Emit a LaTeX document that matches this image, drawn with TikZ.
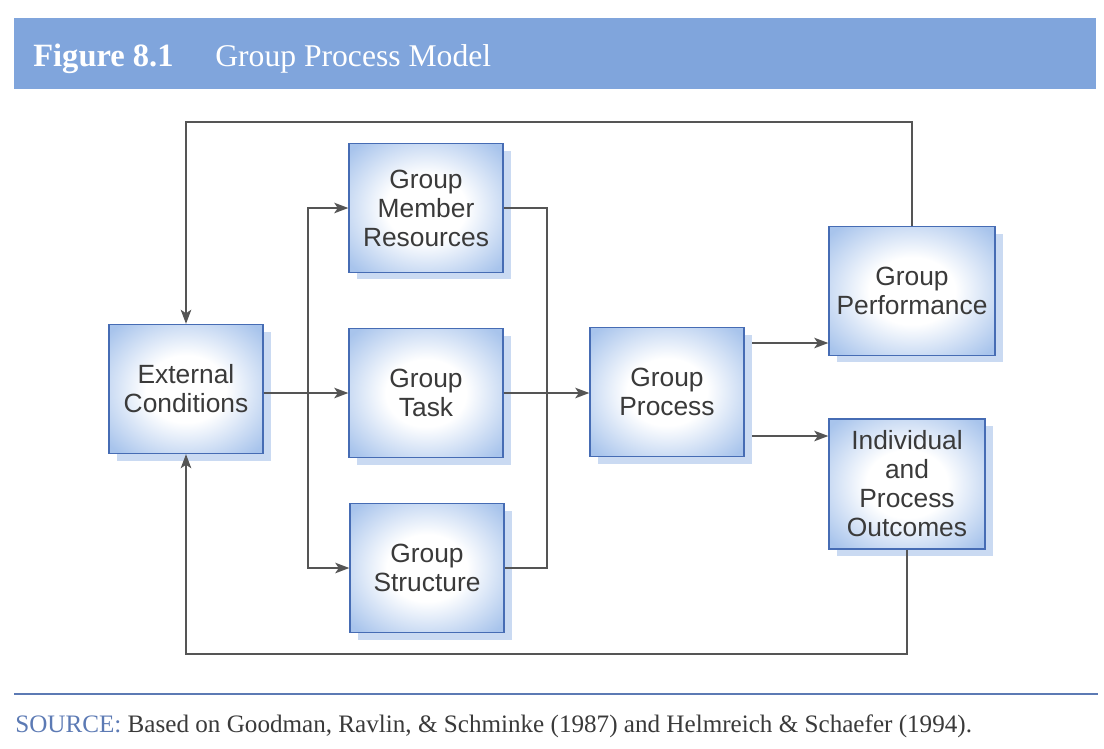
\documentclass[tikz,border=0pt]{standalone}
\usepackage{fontspec}
\setmainfont{Liberation Serif}
\setsansfont{Liberation Sans}
\usetikzlibrary{positioning, arrows.meta, shadows}
\definecolor{barblue}{RGB}{128,165,220}
\definecolor{ruleblue}{RGB}{92,122,180}
\definecolor{edgeblue}{RGB}{70,108,180}
\definecolor{glowblue}{RGB}{168,196,236}
\definecolor{shadeblue}{RGB}{202,218,242}
\definecolor{inkgray}{RGB}{58,58,58}
\definecolor{linegray}{RGB}{85,85,85}
\pgfdeclareradialshading{boxglow}{\pgfpoint{0bp}{0bp}}{color(0bp)=(white); color(13bp)=(white); color(33bp)=(glowblue); color(50bp)=(glowblue)}
\tikzset{
>={Stealth[length=8pt, width=6pt, inset=2pt]}, % filled arrow heads
block/.style={draw=edgeblue, line width=0.8pt, shade, shading=boxglow,
  drop shadow={shadow xshift=0.16cm, shadow yshift=-0.14cm, fill=shadeblue, opacity=1},
  minimum width=3.08cm, minimum height=2.58cm, align=center, text=inkgray,
  font=\sffamily\fontsize{15}{16.5}\selectfont}, % the blue boxes
link/.style={draw=linegray, line width=0.9pt}, % the grey connectors
}

\begin{document}
\begin{tikzpicture}[x=0.02cm, y=-0.02cm]
        \useasboundingbox (0,0) rectangle (1104,748);

        % Heading
        \fill[barblue] (14,18) rectangle (1096,89);
        \node[anchor=base west, inner sep=0pt, text=white, font=\fontsize{18.5}{20}\selectfont\bfseries] (figno) at (33,66) {Figure 8.1};
        \node[anchor=base west, inner sep=0pt, text=white, font=\fontsize{18}{20}\selectfont] (figname) at (215,66) {Group Process Model};

        % Inputs
        \node[block] (Ext) at (186,389) {External\\Conditions};
        \node[block] (Member) at (426,208) {Group\\Member\\Resources};
        \node[block] (Task) at (426,393) {Group\\Task};
        \node[block] (Structure) at (427,568) {Group\\Structure};

        % Process and outputs
        \node[block] (Process) at (667,392) {Group\\Process};
        \node[block, minimum width=3.32cm] (Perf) at (912,291) {Group\\Performance};
        \node[block, minimum width=3.12cm, minimum height=2.6cm] (Outcomes) at (907,484) {Individual\\and\\Process\\Outcomes};

        \coordinate (fork) at (308,393);
        \coordinate (merge) at (547,393);
        \coordinate (top) at (186,122);
        \coordinate (bottom) at (186,654);
        \coordinate (upper) at (752,343);
        \coordinate (lower) at (752,436);

        \draw[link, ->] (Ext.east |- Task) -- (Task.west);
        \draw[link, ->] (fork) |- (Member.west);
        \draw[link, ->] (fork) |- (Structure.west);
        \draw[link] (Member.east) -| (merge) |- (Structure.east);
        \draw[link, ->] (Task.east) -- (Task.east -| Process.west);
        \draw[link, ->] (upper) -- (upper -| Perf.west);
        \draw[link, ->] (lower) -- (lower -| Outcomes.west);

        % Feedback loops
        \draw[link, ->] (Perf.north) |- (top) -- (Ext.north);
        \draw[link, ->] (Outcomes.south) |- (bottom) -- (Ext.south);

        % Source
        \draw[ruleblue, line width=1.1pt] (14,694) -- (1098,694);
        \node[anchor=base west, inner sep=0pt, text=inkgray, font=\fontsize{14.3}{16}\selectfont] (source) at (15,732) {\textcolor{ruleblue}{SOURCE:} Based on Goodman, Ravlin, \& Schminke (1987) and Helmreich \& Schaefer (1994).};
    \end{tikzpicture}
\end{document}
